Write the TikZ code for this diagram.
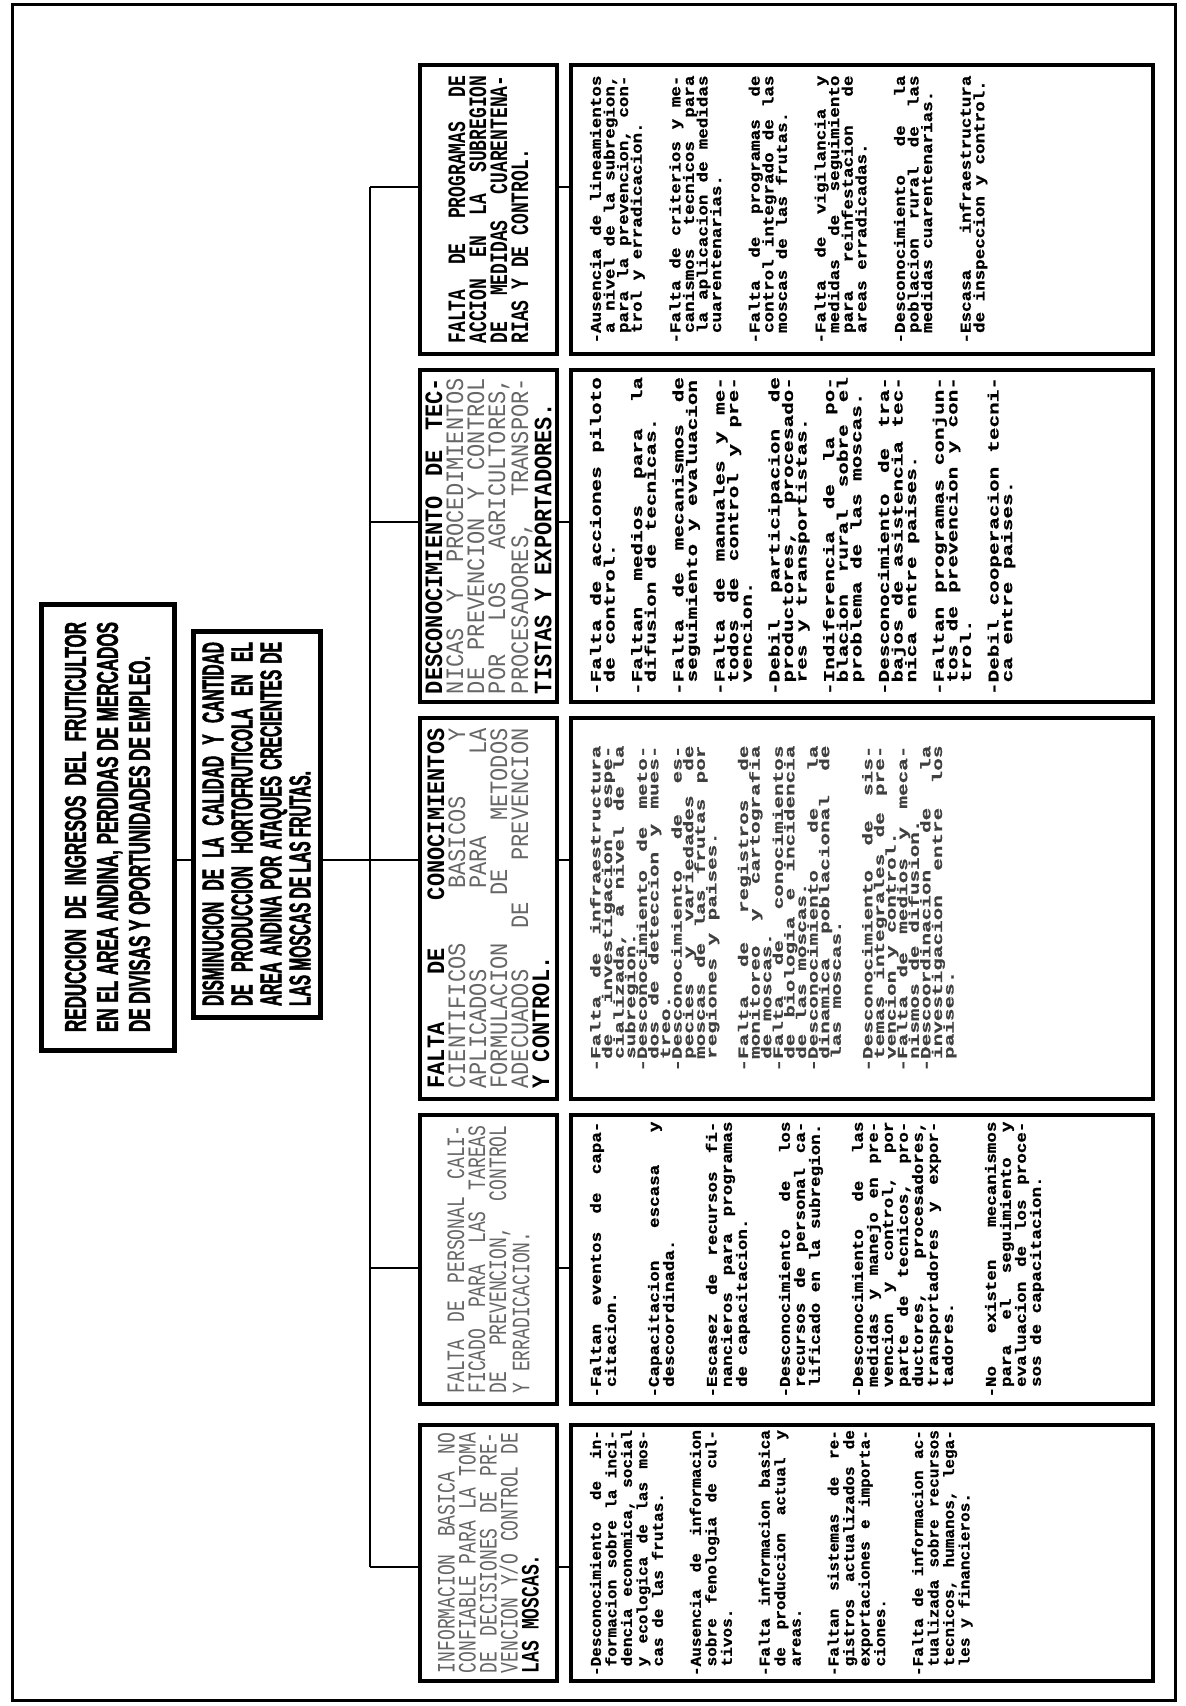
\documentclass[tikz,border=0pt]{standalone}
\usepackage{fontspec}
\newfontfamily\titlefont[FakeStretch=0.567,FakeBold=1.5]{Liberation Sans}
\newfontfamily\titlefontB[FakeStretch=0.517,FakeBold=1.5]{Liberation Sans}
\newfontfamily\headA[FakeStretch=0.72]{Liberation Mono}
\newfontfamily\headB[FakeStretch=0.88]{Liberation Mono}
\newfontfamily\dotA[FakeStretch=1.07,FakeBold=1]{Liberation Mono}
\newfontfamily\dotB[FakeStretch=1.17,FakeBold=1]{Liberation Mono}
\newfontfamily\dotC[FakeStretch=1.4,FakeBold=1]{Liberation Mono}
\newfontfamily\dotD[FakeStretch=1.5,FakeBold=1]{Liberation Mono}
\newcommand{\jsp}{\spaceskip=\fontdimen2\font plus 30pt\relax\lineskiplimit=-20pt\relax}
\newcommand{\tightlines}{\lineskiplimit=-20pt\relax}
\newcommand{\itm}{\par\hangindent=\fontcharwd\font`\-\relax\hangafter=1\relax}
\newcommand{\dk}[1]{{\bfseries\color{black}#1}}

\tikzset{every picture/.style={line width=0.75pt}}
\tikzset{
  frame/.style={draw, line width=2pt, rotate=90, inner sep=0pt},
  title/.style={frame, line width=2.5pt, align=justify},
  head/.style={frame, align=justify, minimum height=68.5pt, text=black!60, font=\fontsize{12.5}{10.5}\selectfont},
  cont/.style={frame, minimum height=291pt},
}

\begin{document}
\begin{tikzpicture}[x=0.5pt,y=0.5pt,yscale=-1,xscale=1]
\useasboundingbox (0,0) rectangle (1185,1706);
% outer frame
\draw [line width=1.5pt] (12,5) rectangle (1175,1700);

% Title boxes
\node [title, minimum width=223pt, minimum height=66.5pt, text width=205pt,
  font={\titlefont\bfseries\fontsize{15}{16}\selectfont\tightlines}] (b1) at (107.5,827)
  {\jsp REDUCCION DE INGRESOS DEL FRUTICULTOR\linebreak EN EL AREA ANDINA, PERDIDAS DE MERCADOS\linebreak DE DIVISAS Y OPORTUNIDADES DE EMPLEO.};
\node [title, minimum width=193pt, minimum height=63.5pt, text width=182pt,
  font={\titlefontB\bfseries\fontsize{15}{14.5}\selectfont\tightlines}] (b2) at (256.5,824)
  {\jsp DISMINUCION DE LA CALIDAD Y CANTIDAD\linebreak DE PRODUCCION HORTOFRUTICOLA EN EL\linebreak AREA ANDINA POR ATAQUES CRECIENTES DE\linebreak LAS MOSCAS DE LAS FRUTAS.};

% Header boxes
\node [head, minimum width=128pt, text width=120pt] (h1) at (488.5,1553)
  {\headA\jsp INFORMACION BASICA NO\linebreak CONFIABLE PARA LA TOMA\linebreak DE DECISIONES DE PRE-\linebreak VENCION Y/O CONTROL DE\linebreak \dk{LAS MOSCAS.}};
\node [head, minimum width=144.5pt, text width=134pt] (h2) at (488.5,1259.5)
  {\headA\jsp FALTA DE PERSONAL CALI-\linebreak FICADO PARA LAS TAREAS\linebreak DE PREVENCION, CONTROL\linebreak Y ERRADICACION.};
\node [head, minimum width=190.5pt, text width=180pt] (h3) at (488.5,908.5)
  {\headB\jsp \dk{FALTA DE CONOCIMIENTOS}\linebreak CIENTIFICOS BASICOS Y\linebreak APLICADOS PARA LA\linebreak FORMULACION DE METODOS\linebreak ADECUADOS DE PREVENCION\linebreak \dk{Y CONTROL.}};
\node [head, minimum width=166pt, text width=158pt] (h4) at (488.5,536)
  {\headB\jsp \dk{DESCONOCIMIENTO DE TEC-}\linebreak NICAS Y PROCEDIMIENTOS\linebreak DE PREVENCION Y CONTROL\linebreak POR LOS AGRICULTORES,\linebreak PROCESADORES, TRANSPOR-\linebreak \dk{TISTAS Y EXPORTADORES.}};
\node [head, minimum width=144.5pt, text width=134pt, text=black] (h5) at (488.5,209.5)
  {\headA\bfseries\jsp FALTA DE PROGRAMAS DE\linebreak ACCION EN LA SUBREGION\linebreak DE MEDIDAS CUARENTENA-\linebreak RIAS Y DE CONTROL.};

% Content boxes
\node [cont, minimum width=128pt] (c1) at (862,1553) {\parbox[c][272pt][t]{123pt}{%
  \dotA\bfseries\fontsize{7.5}{7.75}\selectfont\jsp\parskip=11.2pt
  \itm -Desconocimiento de in-\linebreak formacion sobre la inci-\linebreak dencia economica, social\linebreak y ecologica de las mos-\linebreak cas de las frutas.
  \itm -Ausencia de informacion\linebreak sobre fenologia de cul-\linebreak tivos.
  \itm -Falta informacion basica\linebreak de produccion actual y\linebreak areas.
  \itm -Faltan sistemas de re-\linebreak gistros actualizados de\linebreak exportaciones e importa-\linebreak ciones.
  \itm -Falta de informacion ac-\linebreak tualizada sobre recursos\linebreak tecnicos, humanos, lega-\linebreak les y financieros.}};
\node [cont, minimum width=144.5pt] (c2) at (862,1259.5) {\parbox[c][272pt][t]{138pt}{%
  \dotB\bfseries\fontsize{7.5}{7.5}\selectfont\jsp\parskip=14pt
  \itm -Faltan eventos de capa-\linebreak citacion.
  \itm -Capacitacion escasa y\linebreak descoordinada.
  \itm -Escasez de recursos fi-\linebreak nancieros para programas\linebreak de capacitacion.
  \itm -Desconocimiento de los\linebreak recursos de personal ca-\linebreak lificado en la subregion.
  \itm -Desconocimiento de las\linebreak medidas y manejo en pre-\linebreak vencion y control, por\linebreak parte de tecnicos, pro-\linebreak ductores, procesadores,\linebreak transportadores y expor-\linebreak tadores.
  \itm -No existen mecanismos\linebreak para el seguimiento y\linebreak evaluacion de los proce-\linebreak sos de capacitacion.}};
\node [cont, minimum width=190.5pt, text=black!75] (c3) at (862,908.5) {\parbox[c][272pt][t]{163pt}{%
  \dotD\bfseries\fontsize{7}{5.8}\selectfont\jsp\parskip=0pt
  \itm -Falta de infraestructura\linebreak de investigacion espe-\linebreak cializada, a nivel de la\linebreak subregion.
  \itm -Desconocimiento de meto-\linebreak dos de deteccion y mues-\linebreak treo.
  \itm -Desconocimiento de es-\linebreak pecies y variedades de\linebreak moscas de las frutas por\linebreak regiones y paises.
  \par\vspace{10pt}
  \itm -Falta de registros de\linebreak monitoreo y cartografia\linebreak de moscas.
  \itm -Falta de conocimientos\linebreak de biologia e incidencia\linebreak de las moscas.
  \itm -Desconocimiento de la\linebreak dinamica poblacional de\linebreak las moscas.
  \par\vspace{10pt}
  \itm -Desconocimiento de sis-\linebreak temas integrales de pre-\linebreak vencion y control.
  \itm -Falta de medios y meca-\linebreak nismos de difusion.
  \itm -Descoordinacion de la\linebreak investigacion entre los\linebreak paises.}};
\node [cont, minimum width=166pt] (c4) at (862,536) {\parbox[c][272pt][t]{159pt}{%
  \dotC\bfseries\fontsize{7.5}{6.8}\selectfont\jsp\parskip=7pt
  \itm -Falta de acciones piloto\linebreak de control.
  \itm -Faltan medios para la\linebreak difusion de tecnicas.
  \itm -Falta de mecanismos de\linebreak seguimiento y evaluacion
  \itm -Falta de manuales y me-\linebreak todos de control y pre-\linebreak vencion.
  \itm -Debil participacion de\linebreak productores, procesado-\linebreak res y transportistas.
  \itm -Indiferencia de la po-\linebreak blacion rural sobre el\linebreak problema de las moscas.
  \itm -Desconocimiento de tra-\linebreak bajos de asistencia tec-\linebreak nica entre paises.
  \itm -Faltan programas conjun-\linebreak tos de prevencion y con-\linebreak trol.
  \itm -Debil cooperacion tecni-\linebreak ca entre paises.}};
\node [cont, minimum width=144.5pt] (c5) at (862,209.5) {\parbox[c][272pt][t]{134pt}{%
  \dotB\bfseries\fontsize{7.5}{6.8}\selectfont\jsp\parskip=12.5pt
  \itm -Ausencia de lineamientos\linebreak a nivel de la subregion,\linebreak para la prevencion, con-\linebreak trol y erradicacion.
  \itm -Falta de criterios y me-\linebreak canismos tecnicos para\linebreak la aplicacion de medidas\linebreak cuarentenarias.
  \itm -Falta de programas de\linebreak control integrado de las\linebreak moscas de las frutas.
  \itm -Falta de vigilancia y\linebreak medidas de seguimiento\linebreak para reinfestacion de\linebreak areas erradicadas.
  \itm -Desconocimiento de la\linebreak poblacion rural de las\linebreak medidas cuarentenarias.
  \itm -Escasa infraestructura\linebreak de inspeccion y control.}};

% Connectors
\coordinate (bus) at (370,0);
\coordinate (j) at (0,860);
\draw (b1.south |- j) -- (b2.north |- j);
\draw (b2.south |- j) -- (bus |- j);
\foreach \n/\y in {1/1567,2/1268,3/860,4/522,5/187} {
  \coordinate (s\n) at (0,\y);
  \draw (bus |- s\n) -- (h\n.north |- s\n);
  \draw (h\n.south |- s\n) -- (c\n.north |- s\n);
}
\draw (bus |- s5) -- (bus |- s1);
\end{tikzpicture}
\end{document}
